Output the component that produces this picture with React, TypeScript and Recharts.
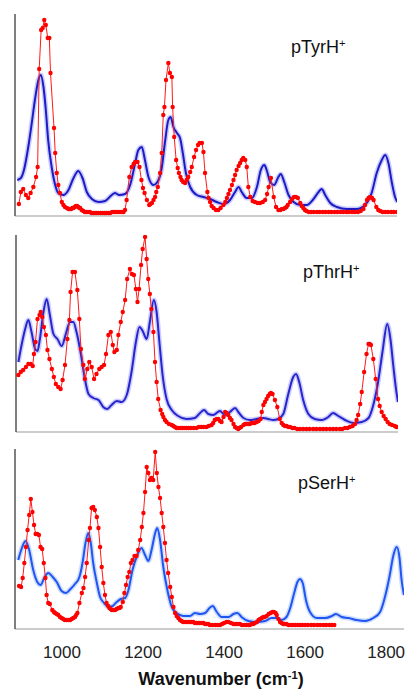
import React from 'react';
import { LineChart, Line, XAxis, YAxis } from 'recharts';

// Wavenumber ticks (cm-1)
const xTicks = [1000, 1200, 1400, 1600, 1800];

// pTyrH+ : experimental (IRMPD) [wavenumber, intensity]
const tyrExp: number[][] = [
  [881,12],[886,24],[892,27],[899,21],[905,18],[911,23],[918,29],[925,39],[929,49],[933,147],
  [938,186],[942,188],[946,196],[950,191],[955,178],[959,178],[962,143],[971,88],[974,63],[978,43],
  [982,31],[986,23],[991,14],[995,11],[999,9],[1004,8],[1008,7],[1012,7],[1015,7],[1018,8],[1021,8],[1024,9],[1027,10],[1030,10],[1033,9],[1036,8],[1038,8],[1042,6],
  [1046,5],[1050,4],[1054,4],[1058,4],[1063,4],[1067,3],[1072,3],[1076,3],[1080,3],[1085,3],[1090,3],[1095,3],[1100,3],[1105,3],[1110,3],[1115,3],[1120,4],[1125,4],[1130,4],[1135,4],
  [1140,4],[1145,4],[1149,4],[1153,6],[1157,16],[1164,39],[1170,49],[1175,52],[1179,54],[1185,54],[1190,49],[1195,36],
  [1199,28],[1203,23],[1209,16],[1215,11],[1218,12],[1222,13],[1226,16],[1230,19],[1233,24],[1237,29],[1243,43],[1247,63],[1251,101],[1254,109],
  [1258,136],[1264,153],[1268,143],[1273,139],[1275,109],[1279,79],[1284,56],[1288,48],[1291,43],[1295,39],[1298,36],[1302,34],[1307,33],[1311,36],
  [1315,39],[1320,44],[1324,49],[1330,59],[1335,66],[1340,71],[1344,73],[1350,73],[1354,64],[1358,43],[1364,24],[1367,18],[1371,14],[1375,10],
  [1380,8],[1386,6],[1392,6],[1398,8],[1405,11],[1410,14],[1414,18],[1418,22],[1422,26],[1427,31],[1431,36],[1435,41],[1439,46],[1444,50],[1448,53],[1452,56],
  [1456,58],[1461,56],[1465,49],[1469,29],[1474,19],[1480,15],[1486,14],[1493,13],[1499,13],[1506,14],
  [1512,16],[1517,22],[1521,29],[1527,38],[1534,19],[1540,9],[1546,6],[1551,6],[1555,7],[1559,7],[1563,8],[1567,9],[1570,11],[1576,14],[1581,17],
  [1586,19],[1591,19],[1596,18],[1602,13],[1606,10],[1610,8],[1614,6],[1618,5],[1624,4],[1630,4],[1637,4],[1645,4],[1652,4],[1660,4],[1667,4],[1675,4],[1682,4],[1690,4],
  [1697,4],[1705,4],[1712,4],[1720,4],[1727,4],[1735,4],[1742,4],[1750,4],[1757,5],[1764,7],[1768,11],[1773,16],[1777,18],[1781,19],[1786,18],[1790,16],[1797,9],[1802,6],[1807,5],
  [1813,4],[1820,4],[1827,4],[1835,4],[1842,4],[1850,4],
];

// pTyrH+ : computed spectrum
const tyrCalc: number[][] = [
  [877,36],[886,38],[894,46],[905,69],[914,93],[922,116],[931,136],[937,141],[944,129],[950,106],
  [956,76],[965,49],[974,31],[982,23],[995,21],[1008,26],[1021,38],[1033,45],[1044,38],[1055,24],
  [1068,17],[1085,14],[1102,15],[1119,21],[1127,23],[1138,21],[1153,22],[1166,31],[1179,53],[1187,66],
  [1196,69],[1204,56],[1213,39],[1226,31],[1236,34],[1247,48],[1256,76],[1264,96],[1270,99],[1277,89],
  [1286,83],[1294,78],[1301,63],[1309,43],[1320,29],[1337,21],[1354,19],[1371,17],[1388,14],[1405,12],
  [1422,16],[1435,24],[1444,29],[1452,24],[1465,18],[1478,18],[1491,29],[1501,46],[1510,51],[1516,46],
  [1525,34],[1535,31],[1546,39],[1552,42],[1561,34],[1572,21],[1585,14],[1602,11],[1619,11],[1636,17],
  [1649,24],[1657,27],[1666,21],[1679,13],[1696,9],[1721,7],[1747,7],[1768,11],[1785,23],[1798,43],
  [1811,56],[1820,61],[1828,53],[1837,33],[1845,19],[1851,14],
];

// pThrH+ : experimental
const thrExp: number[][] = [
  [897,57],[903,60],[909,62],[916,65],[922,68],[928,68],[933,66],[936,78],[940,90],[945,113],
  [950,117],[953,120],[957,115],[961,105],[966,97],[970,82],[975,73],[981,63],[986,55],[991,48],
  [997,45],[1003,43],[1008,52],[1014,67],[1020,93],[1025,112],[1028,140],[1033,160],[1039,160],[1045,142],
  [1050,113],[1054,83],[1060,67],[1064,53],[1070,63],[1075,70],[1081,65],[1087,53],[1093,58],[1100,63],
  [1106,65],[1112,67],[1117,78],[1123,97],[1129,100],[1134,87],[1138,80],[1144,82],[1148,97],[1154,110],
  [1159,120],[1165,132],[1170,153],[1177,163],[1182,158],[1187,157],[1192,143],[1196,130],[1200,143],[1205,167],
  [1209,183],[1215,195],[1219,173],[1223,153],[1227,138],[1231,123],[1236,100],[1240,70],[1244,50],[1248,33],
  [1254,22],[1258,18],[1261,15],[1265,12],[1269,10],[1275,8],[1282,7],[1286,6],[1290,5],[1294,4],[1298,4],[1303,4],[1308,4],[1313,4],[1319,4],[1324,4],[1330,4],[1337,4],[1344,4],
  [1350,5],[1356,5],[1362,5],[1369,5],[1375,6],[1382,7],[1386,9],[1390,12],[1395,13],[1399,13],[1403,11],[1407,10],[1412,15],[1416,20],[1420,19],[1424,17],[1428,14],[1432,12],[1437,8],[1441,5],
  [1445,4],[1449,3],[1452,4],[1456,5],[1462,7],[1466,8],[1470,8],[1474,8],[1478,8],[1482,9],[1486,9],[1490,9],[1495,10],[1500,11],[1505,13],[1508,20],[1512,27],[1516,30],[1520,33],
  [1524,36],[1528,38],[1531,39],[1535,38],[1541,32],[1547,25],[1553,13],[1558,9],[1562,7],[1566,6],[1570,6],[1575,5],[1579,5],[1585,4],[1590,4],[1597,3],[1604,3],
  [1612,3],[1620,3],[1628,3],[1637,3],[1645,3],[1654,3],[1662,3],[1670,3],[1679,3],[1687,3],[1695,3],[1704,3],[1710,3],[1717,4],[1723,4],[1729,5],[1736,6],[1742,8],[1746,12],[1750,17],
  [1755,28],[1759,40],[1765,60],[1771,78],[1776,88],[1779,88],[1782,87],[1788,73],[1794,53],[1800,33],[1804,26],[1809,20],[1814,16],[1819,13],
  [1824,10],[1829,8],[1835,7],[1842,6],[1846,5],[1850,5],
];

// pThrH+ : computed spectrum
const thrCalc: number[][] = [
  [897,70],[905,87],[914,103],[922,112],[930,100],[939,83],[945,81],[951,93],[960,120],[968,133],
  [976,117],[985,98],[995,93],[1006,86],[1016,98],[1027,110],[1035,110],[1043,100],[1053,80],[1064,53],
  [1073,38],[1085,34],[1098,32],[1110,25],[1120,23],[1131,27],[1144,31],[1156,30],[1169,37],[1181,60],
  [1192,90],[1201,105],[1209,101],[1219,93],[1227,110],[1237,132],[1244,120],[1251,90],[1259,57],[1269,33],
  [1282,22],[1298,16],[1319,13],[1340,14],[1353,19],[1363,22],[1374,18],[1386,17],[1403,21],[1415,17],
  [1428,20],[1441,24],[1449,20],[1462,14],[1478,12],[1495,13],[1512,14],[1524,13],[1537,12],[1549,13],
  [1562,18],[1574,37],[1587,55],[1594,58],[1602,50],[1612,32],[1625,18],[1641,13],[1658,12],[1675,15],
  [1687,19],[1700,16],[1717,12],[1738,9],[1759,10],[1776,14],[1788,27],[1800,50],[1811,80],[1823,108],
  [1831,93],[1838,67],[1845,43],[1850,30],
];

// pSerH+ : experimental
const serExp: number[][] = [
  [894,43],[899,42],[903,51],[907,66],[911,82],[915,99],[919,114],[923,130],[927,117],[931,104],
  [935,95],[939,95],[943,94],[947,82],[951,80],[955,66],[959,51],[962,34],[966,26],[970,25],
  [976,19],[980,17],[983,16],[987,15],[991,14],[995,12],[999,11],[1003,10],[1007,9],[1011,9],[1016,9],[1020,9],[1024,10],[1028,11],[1032,12],[1035,14],[1038,16],[1043,26],
  [1049,36],[1053,41],[1057,52],[1061,66],[1066,89],[1069,101],[1073,121],[1077,122],[1081,119],[1086,112],
  [1090,101],[1094,82],[1098,62],[1102,46],[1106,34],[1110,26],[1114,23],[1117,21],[1120,20],[1123,19],[1127,19],[1131,19],[1135,20],[1139,21],
  [1142,21],[1145,22],[1150,27],[1154,36],[1158,44],[1162,52],[1166,57],[1170,66],[1174,69],[1179,73],[1184,73],
  [1188,79],[1193,89],[1197,102],[1201,116],[1205,137],[1209,162],[1213,156],[1217,149],[1221,151],[1225,149],
  [1230,177],[1234,156],[1238,142],[1242,131],[1246,116],[1250,102],[1254,86],[1258,69],[1262,56],[1267,42],
  [1271,32],[1275,22],[1279,16],[1283,13],[1287,11],[1291,9],[1295,8],[1299,7],[1304,7],[1308,7],[1312,7],[1316,7],[1320,7],[1324,7],[1328,6],[1332,6],[1336,6],[1340,6],
  [1345,6],[1349,6],[1353,5],[1357,5],[1361,5],[1365,4],[1371,4],[1378,4],[1384,4],[1390,4],[1395,5],[1400,6],[1406,7],[1411,7],[1417,6],[1423,5],[1427,5],[1431,5],[1435,5],[1439,5],
  [1444,4],[1450,4],[1455,4],[1460,4],[1464,4],[1468,5],[1472,5],[1476,6],[1481,7],[1485,9],[1489,10],[1493,11],[1497,12],[1500,12],[1505,13],[1510,15],[1515,16],
  [1519,17],[1523,17],[1527,16],[1530,14],[1534,10],[1538,7],[1542,6],[1546,5],[1550,5],[1554,5],[1559,4],[1565,4],[1570,4],[1576,4],[1582,4],[1587,4],[1593,4],[1600,4],[1607,4],[1615,4],
  [1622,4],[1630,4],[1637,4],[1645,4],[1652,4],[1660,4],[1666,4],[1672,4],
];

// pSerH+ : computed spectrum
const serCalc: number[][] = [
  [892,69],[901,81],[910,88],[919,79],[929,59],[939,47],[947,44],[956,51],[966,56],[977,52],
  [987,47],[999,38],[1010,36],[1021,40],[1032,45],[1043,52],[1051,67],[1058,86],[1065,96],[1071,86],
  [1077,66],[1086,46],[1094,32],[1104,26],[1114,22],[1125,23],[1135,27],[1145,30],[1156,31],[1164,39],
  [1174,59],[1186,74],[1196,81],[1205,74],[1213,68],[1221,79],[1230,96],[1235,101],[1242,89],[1250,62],
  [1260,39],[1271,22],[1283,16],[1299,13],[1316,13],[1328,16],[1341,15],[1353,16],[1364,21],[1372,23],
  [1382,17],[1394,12],[1411,12],[1423,15],[1433,16],[1443,12],[1460,8],[1480,7],[1501,8],[1517,11],
  [1528,11],[1542,9],[1554,12],[1564,22],[1573,36],[1581,47],[1587,50],[1594,46],[1602,29],[1612,17],
  [1629,11],[1649,11],[1666,13],[1676,15],[1690,12],[1707,11],[1727,9],[1748,8],[1768,11],[1785,17],
  [1797,32],[1808,52],[1818,74],[1826,82],[1833,71],[1838,49],[1844,34],
];

const toPts = (arr: number[][]) => arr.map(([w, v]) => ({ w, v }));

const RED = '#ff1a1a';

type PanelProps = {
  top: number;
  height: number;
  marginTop: number;
  left: number;
  right: number;
  xDomain: [number, number];
  yMax: number;
  exp: number[][];
  calc: number[][];
  blue: string;
  halo: string;
  bottomLabels?: boolean;
};

const TickLabel = (props: any) => {
  const { x, y, payload } = props;
  return (
    <text x={x} y={y + 27} textAnchor="middle" fill="#222" fontSize={17}
      fontFamily='"Liberation Sans", Arial, sans-serif'>
      {payload.value}
    </text>
  );
};

const Panel = (p: PanelProps) => (
  <div style={{ position: 'absolute', left: 0, top: p.top, width: 409, height: p.height }}>
    <LineChart width={409} height={p.height}
      margin={{ top: p.marginTop, right: 409 - p.right, left: p.left - 2, bottom: 0 }}>
      <XAxis type="number" dataKey="w" domain={p.xDomain} ticks={xTicks} allowDataOverflow
        axisLine={{ stroke: '#9a9a9a', strokeWidth: 1.2 }}
        tickLine={p.bottomLabels ? false : { stroke: '#8a8a8a', strokeWidth: 1.2 }}
        tickSize={p.bottomLabels ? 0 : 4}
        tick={p.bottomLabels ? <TickLabel /> : false}
        height={p.bottomLabels ? 62 : 10} />
      <YAxis type="number" domain={[0, p.yMax]} allowDataOverflow width={2}
        tick={false} tickLine={false} axisLine={{ stroke: '#555', strokeWidth: 1.5 }} />
      <Line data={toPts(p.calc)} dataKey="v" name="halo" type="monotone" stroke={p.halo}
        strokeWidth={5} strokeOpacity={0.35} dot={false} isAnimationActive={false} />
      <Line data={toPts(p.calc)} dataKey="v" name="calc" type="monotone" stroke={p.blue}
        strokeWidth={2} dot={false} isAnimationActive={false} />
      <Line data={toPts(p.exp)} dataKey="v" name="exp" type="linear" stroke={RED}
        strokeWidth={1} dot={{ r: 2.2, fill: '#ff0000', stroke: 'none' }} isAnimationActive={false} />
    </LineChart>
  </div>
);

const labelStyle: React.CSSProperties = {
  position: 'absolute',
  fontSize: 18,
  lineHeight: '20px',
  color: '#111',
  fontFamily: '"Liberation Sans", Arial, sans-serif',
  whiteSpace: 'nowrap',
};

const supStyle: React.CSSProperties = { fontSize: '0.62em', verticalAlign: '0.55em', lineHeight: 0 };

export default function App() {
  return (
    <div style={{ position: 'absolute', left: 0, top: 0, width: 409, height: 691, background: '#fff', overflow: 'hidden' }}>
      <Panel top={0} height={226} marginTop={14} left={15} right={397} xDomain={[871, 1850]} yMax={202}
        exp={tyrExp} calc={tyrCalc} blue="#1c1cc4" halo="#6b6bff" />
      <Panel top={225} height={217} marginTop={10} left={16} right={398} xDomain={[891, 1850]} yMax={197}
        exp={thrExp} calc={thrCalc} blue="#2626cc" halo="#7070ff" />
      <Panel top={440} height={251} marginTop={9} left={15} right={404} xDomain={[884, 1844]} yMax={180}
        exp={serExp} calc={serCalc} blue="#1f55f0" halo="#6f9bff" bottomLabels />
      <div style={{ ...labelStyle, left: 291, top: 37 }}>pTyrH<span style={supStyle}>+</span></div>
      <div style={{ ...labelStyle, left: 303, top: 262 }}>pThrH<span style={supStyle}>+</span></div>
      <div style={{ ...labelStyle, left: 298, top: 473 }}>pSerH<span style={supStyle}>+</span></div>
      <div style={{ ...labelStyle, left: 0, width: 442, textAlign: 'center', top: 669, lineHeight: '20px', fontWeight: 'bold', fontSize: 18 }}>
        Wavenumber (cm<span style={supStyle}>-1</span>)
      </div>
    </div>
  );
}
